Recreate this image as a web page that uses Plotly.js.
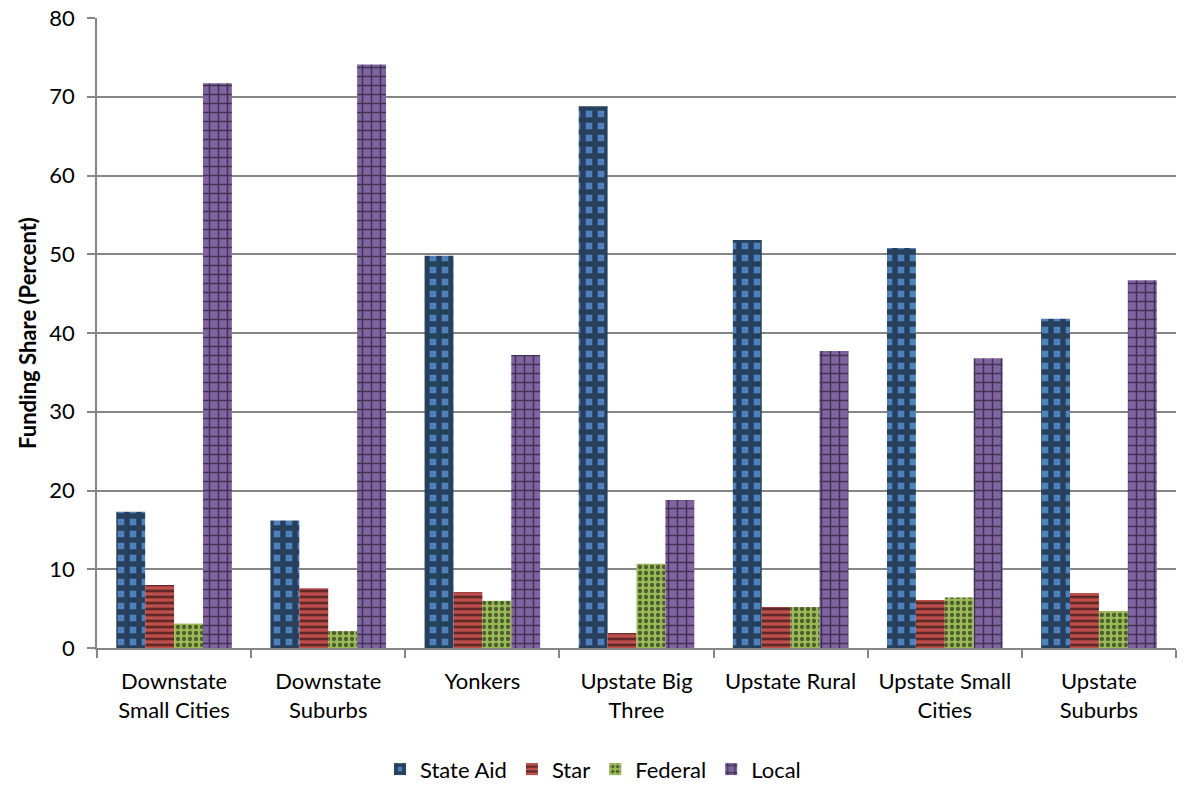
<!DOCTYPE html>
<html>
<head>
<meta charset="utf-8">
<script src="https://cdn.plot.ly/plotly-3.0.1.min.js"></script>
<style>html,body{margin:0;padding:0;background:#fff;}#chart{width:1186px;height:785px;}</style>
</head>
<body>
<div id="chart"></div>
<script>
const categories = ["Downstate<br>Small Cities", "Downstate<br>Suburbs", "Yonkers", "Upstate Big<br>Three", "Upstate Rural", "Upstate Small<br>Cities", "Upstate<br>Suburbs"];
const stateAid = [17.3, 16.2, 49.8, 68.8, 51.8, 50.8, 41.8];
const star = [8.0, 7.6, 7.1, 1.9, 5.2, 6.1, 7.0];
const federal = [3.1, 2.15, 6.0, 10.7, 5.2, 6.4, 4.7];
const local = [71.7, 74.1, 37.2, 18.8, 37.7, 36.8, 46.7];
const yTicks = [0, 10, 20, 30, 40, 50, 60, 70, 80];

function bar(name, y, color, shape, size, solidity) {
  return {
    type: "bar", name: name, x: categories, y: y,
    marker: {color: color, line: {width: 0},
      pattern: {shape: shape, fgcolor: "#000000", bgcolor: color, size: size, solidity: solidity, fillmode: "overlay"}}
  };
}
const data = [
  bar("State Aid", stateAid, "#4F81BD", "+", 12, 0.7),
  bar("Star", star, "#C0504D", "-", 6, 0.45),
  bar("Federal", federal, "#9BBB59", ".", 6, 0.4),
  bar("Local", local, "#8064A2", "+", 9, 0.3)
];
const layout = {
  width: 1186, height: 785,
  margin: {l: 97, r: 10, t: 18, b: 137},
  paper_bgcolor: "#fff", plot_bgcolor: "#fff",
  font: {family: "Lato, 'Open Sans', sans-serif", size: 22, color: "#000"},
  barmode: "group", bargap: 0.25, bargroupgap: 0,
  showlegend: true,
  legend: {orientation: "h", x: 0.5, xanchor: "center", xref: "container", y: 0.02, yanchor: "middle", yref: "container",
    font: {size: 22}, itemwidth: 30, tracegroupgap: 0},
  xaxis: {type: "category", tickson: "boundaries", ticks: "outside", ticklen: 8, tickcolor: "#868686", tickwidth: 1.5,
    showline: true, linecolor: "#868686", linewidth: 1.5, showgrid: false, tickfont: {size: 22}, automargin: false,
    ticklabelstandoff: 13},
  yaxis: {range: [0, 80], tickvals: yTicks, ticks: "outside", ticklen: 8, tickcolor: "#868686", tickwidth: 1.5,
    showline: true, linecolor: "#868686", linewidth: 1.5, gridcolor: "#868686", gridwidth: 1.5,
    zeroline: false, tickfont: {size: 22}, automargin: false, ticklabelstandoff: 8,
    title: {text: "<b>Funding Share (Percent)</b>", font: {size: 22}, standoff: 7}}
};
Plotly.newPlot("chart", data, layout, {displayModeBar: false});
</script>
</body>
</html>
